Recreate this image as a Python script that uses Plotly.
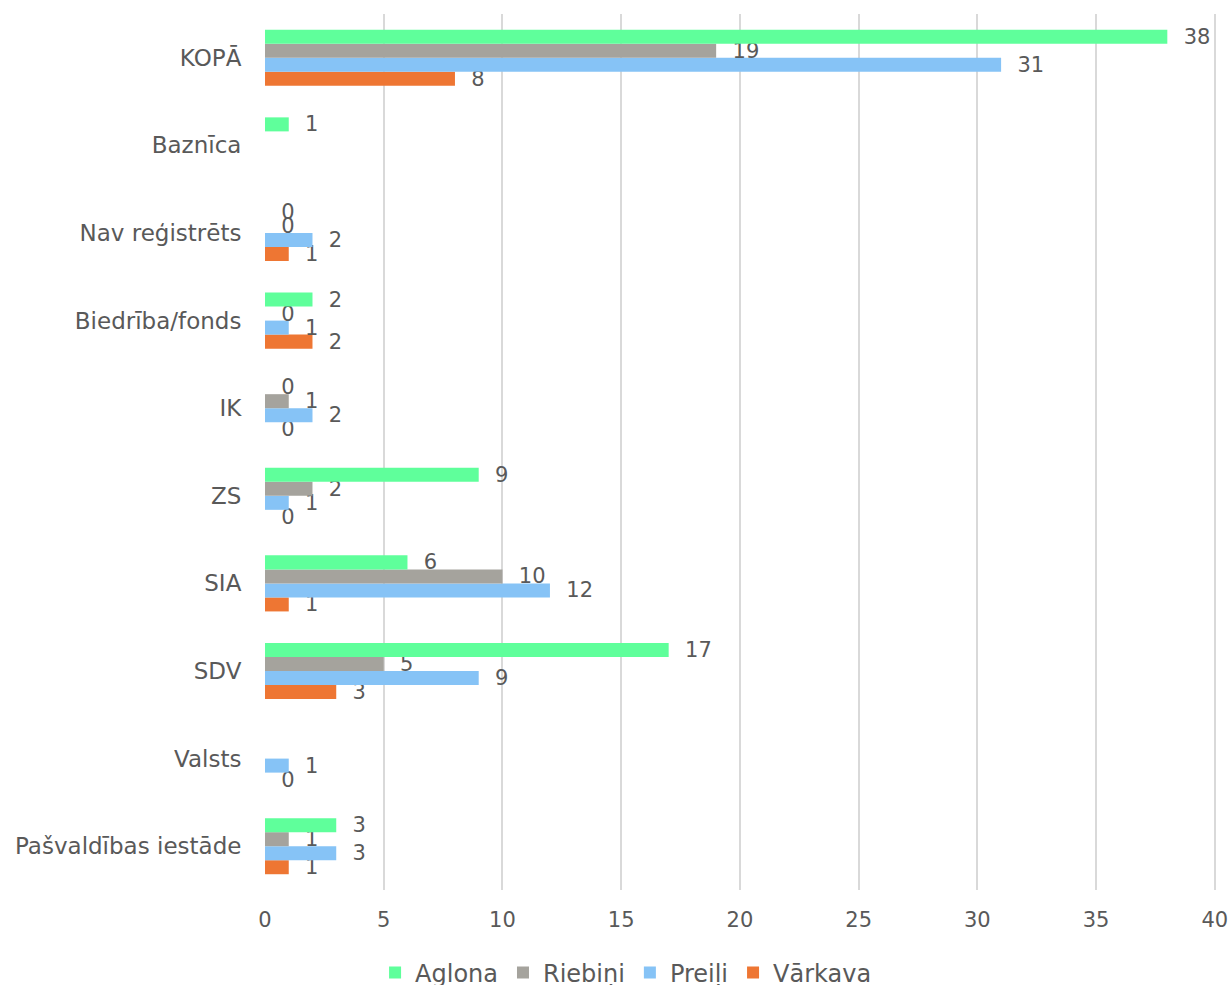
import plotly.graph_objects as go

categories = ["Pašvaldības iestāde", "Valsts", "SDV", "SIA", "ZS", "IK",
              "Biedrība/fonds", "Nav reģistrēts", "Baznīca", "KOPĀ"]
aglona = [3, None, 17, 6, 9, 0, 2, 0, 1, 38]
riebini = [1, None, 5, 10, 2, 1, 0, 0, None, 19]
preili = [3, 1, 9, 12, 1, 2, 1, 2, None, 31]
varkava = [1, 0, 3, 1, 0, 0, 2, 1, None, 8]

series = [
    ("Vārkava", varkava, "#EE7633", 4),
    ("Preiļi", preili, "#86C3F6", 3),
    ("Riebiņi", riebini, "#A5A39D", 2),
    ("Aglona", aglona, "#5FFF9B", 1),
]

FONT = "DejaVu Sans"
TXT = "#595959"

fig = go.Figure()
for name, vals, color, rank in series:
    fig.add_trace(go.Bar(
        y=categories, x=vals, name=name, orientation="h",
        marker=dict(color=color, line=dict(width=0)),
        text=[None if v is None else str(v) for v in vals],
        texttemplate="  %{text}",
        textposition="outside",
        constraintext="none",
        textfont=dict(family=FONT, size=21, color=TXT),
        outsidetextfont=dict(family=FONT, size=21, color=TXT),
        cliponaxis=False,
        legendrank=rank,
    ))

fig.update_layout(
    width=1230, height=985,
    barmode="group", bargap=0.36, bargroupgap=0,
    plot_bgcolor="white", paper_bgcolor="white",
    margin=dict(l=265, r=14, t=14, b=95, autoexpand=False),
    font=dict(family=FONT, color=TXT, size=21),
    xaxis=dict(range=[0, 40.05], tickvals=[0, 5, 10, 15, 20, 25, 30, 35, 40],
               showgrid=True, gridcolor="#D9D9D9",
               gridwidth=2, zeroline=False, showline=False, automargin=False,
               tickfont=dict(size=21, color=TXT), ticks="outside", ticklen=11,
               tickcolor="rgba(0,0,0,0)"),
    yaxis=dict(categoryorder="array", categoryarray=categories,
               showgrid=False, showline=False, zeroline=False, automargin=False,
               tickfont=dict(size=23, color=TXT), ticks="outside",
               ticklen=18, tickcolor="rgba(0,0,0,0)"),
    legend=dict(orientation="h", xref="container", yref="container",
                x=0.509, xanchor="center", y=0.0122, yanchor="middle",
                font=dict(size=24, color=TXT), itemwidth=30,
                traceorder="normal"),
)

fig.write_html(
    "out.html",
    config={"displayModeBar": False},
    post_script="document.body.style.margin='0';"
                "document.documentElement.style.overflow='hidden';"
                "document.body.style.overflow='hidden';",
)
